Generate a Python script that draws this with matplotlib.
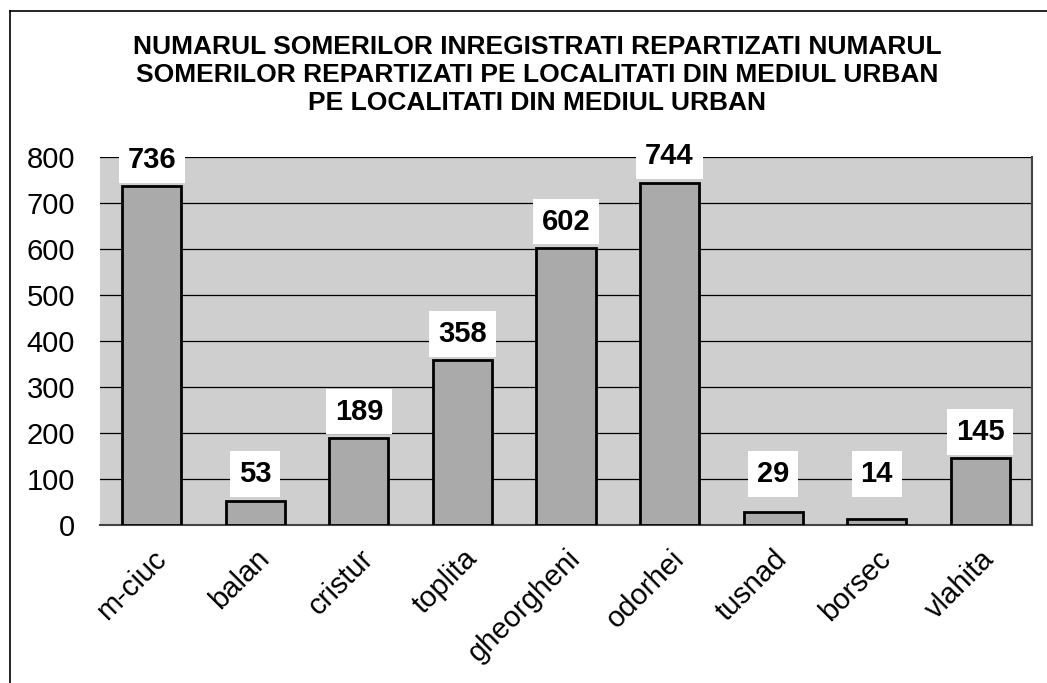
import numpy as np
import matplotlib
matplotlib.use("Agg")
import matplotlib.pyplot as plt
from matplotlib.lines import Line2D

# data
towns = ["m-ciuc", "balan", "cristur", "toplita", "gheorgheni",
         "odorhei", "tusnad", "borsec", "vlahita"]
somers = [736, 53, 189, 358, 602, 744, 29, 14, 145]
yticks = [0, 100, 200, 300, 400, 500, 600, 700, 800]
title = ("NUMARUL SOMERILOR INREGISTRATI REPARTIZATI NUMARUL\n"
         "SOMERILOR REPARTIZATI PE LOCALITATI DIN MEDIUL URBAN\n"
         "PE LOCALITATI DIN MEDIUL URBAN")

plt.rcParams['font.family'] = ['Liberation Sans', 'DejaVu Sans']

fig = plt.figure(figsize=(10.47, 6.83), dpi=100)
ax = fig.add_axes([100/1047, 1-525/683, 932/1047, 368/683])

x = np.arange(len(towns))
ax.set_facecolor("#cfcfcf")
ax.bar(x, somers, width=0.57, color="#aaaaaa", edgecolor="black",
       linewidth=2, zorder=3)

ax.set_xlim(-0.5, len(towns) - 0.5)
ax.set_ylim(0, 800)
ax.set_yticks(yticks)
ax.set_yticklabels([str(t) for t in yticks], fontsize=21)
ax.yaxis.grid(True, color="black", linewidth=0.9, zorder=1)
ax.set_axisbelow(True)
ax.tick_params(axis="y", length=0, pad=18)
ax.tick_params(axis="x", length=0, pad=14)
ax.set_xticks(x)
ax.set_xticklabels(towns, rotation=45, ha="right", rotation_mode="anchor",
                   fontsize=21)

for s in ["left", "top"]:
    ax.spines[s].set_visible(False)
for s in ["right", "bottom"]:
    ax.spines[s].set_color("#444444")
    ax.spines[s].set_linewidth(1.5)

# value labels with white boxes
for xi, v in zip(x, somers):
    ax.annotate(str(v), (xi, max(v, 53)), xytext=(0, 19),
                textcoords="offset points", ha="center", va="center",
                fontsize=21, fontweight="bold", zorder=5,
                bbox=dict(boxstyle="square,pad=0.3", fc="white", ec="none"))

fig.text(537/1047, 1-75/683, title, ha="center", va="center",
         fontsize=19, fontweight="bold", linespacing=1.2)

# scanned frame edges
fig.add_artist(Line2D([10/1047, 1], [1-11/683, 1-11/683], color="black",
                      linewidth=1.2, transform=fig.transFigure))
fig.add_artist(Line2D([10/1047, 10/1047], [1-11/683, 0], color="black",
                      linewidth=1.2, transform=fig.transFigure))

fig.savefig("out.png", dpi=100)
